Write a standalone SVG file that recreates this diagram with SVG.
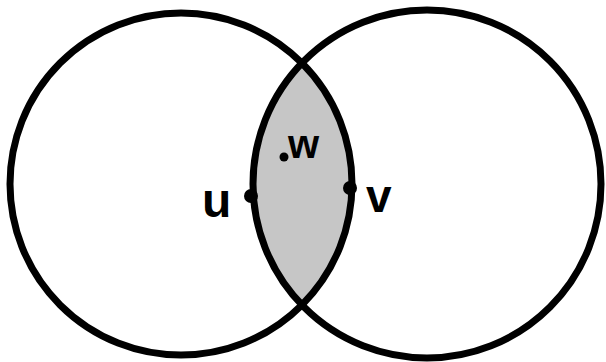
<svg xmlns="http://www.w3.org/2000/svg" width="606" height="362" viewBox="0 0 606 362">
<style>
.c{fill:none;stroke:#000;stroke-width:7}
.lbl{font-family:"Liberation Sans",Arial,sans-serif;font-weight:bold;fill:#000}
.pt{fill:#000}
</style>
<rect width="606" height="362" fill="#fff"/>
<g id="lens">
<path d="M 304 64 A 171 171 0 0 1 304 304 A 174 174 0 0 1 304 64 Z" fill="#c6c6c6"/>
</g>
<g id="circleA"><circle class="c" cx="181" cy="184" r="171"/></g>
<g id="circleB"><circle class="c" cx="427" cy="184" r="174"/></g>
<g id="u">
<circle class="pt" cx="251" cy="196" r="7"/>
<text class="lbl" x="202" y="217" font-size="48">u</text>
</g>
<g id="v">
<circle class="pt" cx="350" cy="188" r="7"/>
<text class="lbl" x="366" y="212" font-size="46">v</text>
</g>
<g id="w">
<circle class="pt" cx="284" cy="157" r="4.5"/>
<text class="lbl" x="288" y="158" font-size="40">w</text>
</g>
</svg>
